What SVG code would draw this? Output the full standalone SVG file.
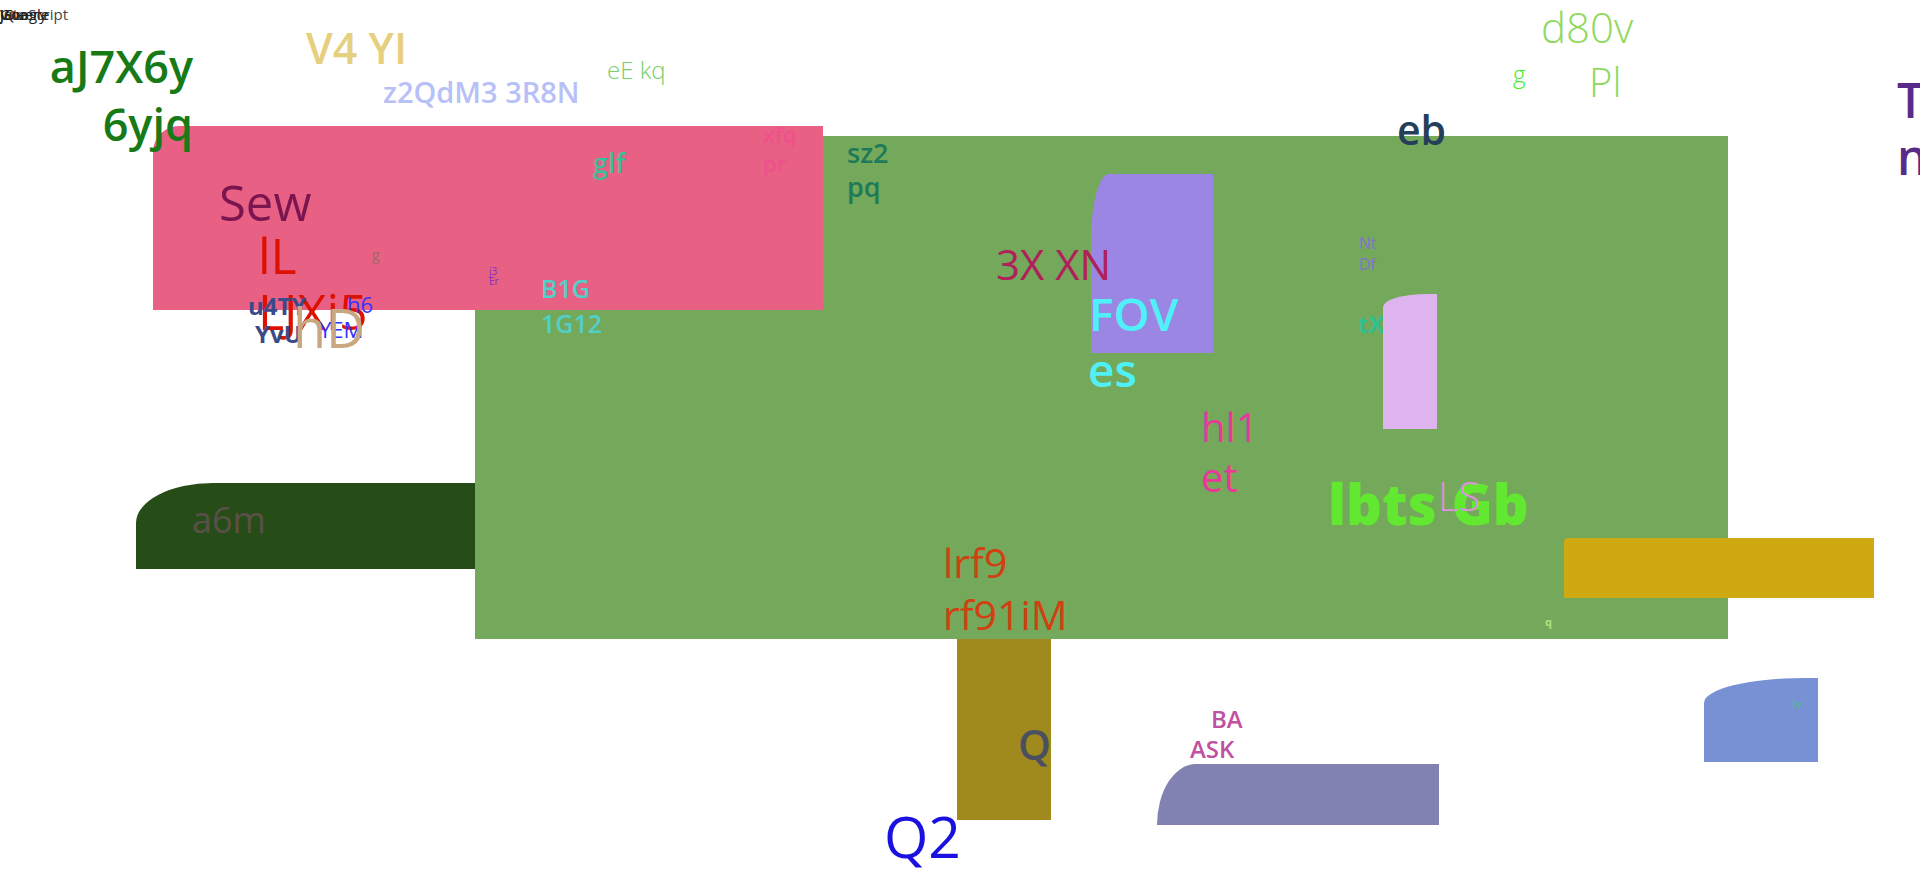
<svg xmlns="http://www.w3.org/2000/svg" width="1920" height="870" viewBox="0 0 1920 870">
<style>
text{font-family:"Open Sans","Noto Sans","Liberation Sans",sans-serif;}
.r{font-weight:400}.l{font-weight:300}.s{font-weight:600}.b{font-weight:700}.x{font-weight:800}
</style>
<rect width="1920" height="870" fill="#ffffff"/>
<g id="connectors"></g>
<g id="n-tl">
<text x="0" y="20" font-size="15" fill="#444">JavaScript</text>
<text x="0" y="20" font-size="15" fill="#222">jQuery</text>
<text x="0" y="20" font-size="15" fill="#222">Google</text>
<text x="0" y="20" font-size="15" fill="#222">Vite</text>
</g>
<g id="n-v4"><text class="s" x="306" y="64" font-size="43" fill="#e6d080">V4 YI</text></g>
<g id="n-z2"><text class="s" x="383" y="103" font-size="29" fill="#b8c0f8">z2QdM3 3R8N</text></g>
<g id="n-eE"><text class="l" x="607" y="79" font-size="24" fill="#78cc6a">eE kq</text></g>
<g id="n-dkgreen"><path d="M136,569 V523 A77,40 0 0 1 213,483 H480 V569 Z" fill="#264d18"/><text class="r" x="192" y="533" font-size="36" fill="#5a5048">a6m</text></g>
<g id="n-olive"><rect x="957" y="620" width="94" height="200" fill="#a0891d"/><text class="s" x="1018" y="760" font-size="42" fill="#4a5060">Q</text></g>
<g id="n-green"><rect x="475" y="136" width="1253" height="503" fill="#74a85a"/>
<text class="s" x="847" y="163" font-size="27" fill="#1e7a5a">sz2</text><text class="s" x="847" y="197" font-size="27" fill="#1e7a5a">pq</text>
<text class="r" x="943" y="578" font-size="41" fill="#d04010">lrf9</text><text class="r" x="943" y="630" font-size="41" fill="#d04010">rf91iM</text>
<text class="s" x="1397" y="145" font-size="41" fill="#253f5a">eb</text>
<text class="b" x="1545" y="626" font-size="11" fill="#b0e080">q</text>
</g>
<g id="n-pink"><path d="M153,310 V152 A26,26 0 0 1 179,126 H823 V310 Z" fill="#e86084"/>
<text class="r" x="219" y="221" font-size="49" fill="#7a1550">Sew</text>
<text class="s" x="593" y="173" font-size="27" fill="#3cbf98">glf</text>
<text class="s" x="763" y="143" font-size="22" fill="#f0508c">xfq</text><text class="s" x="763" y="172" font-size="22" fill="#f0508c">pr</text>
<text class="r" x="372" y="260" font-size="14" fill="#a06868">g</text>
<text class="r" x="489" y="275" font-size="10" fill="#8030c0">j3</text><text class="r" x="489" y="285" font-size="10" fill="#8030c0">Er</text>
</g>
<g id="n-aJ7"><text class="s" x="193" y="83" font-size="45" fill="#177a17" text-anchor="end">aJ7X6y</text><text class="s" x="193" y="141" font-size="45" fill="#177a17" text-anchor="end">6yjq</text></g>
<g id="n-lL"><text class="r" x="258" y="274" font-size="50" fill="#dd1100">lL</text><text class="r" x="258" y="330" font-size="50" fill="#dd1100">LJXi5</text></g>
<g id="n-u4"><text class="b" x="248" y="315" font-size="24" fill="#3a4a8a">u4TY</text><text class="b" x="255" y="343" font-size="24" fill="#3a4a8a">YvU</text></g>
<g id="n-h6"><text class="r" x="347" y="313" font-size="22" fill="#3333ff">h6</text><text class="r" x="319" y="338" font-size="22" fill="#3333ff">YEM</text></g>
<g id="n-hD"><text class="r" x="293" y="348" font-size="54" fill="#c8a880">hD</text></g>
<g id="n-B1G"><text class="s" x="541" y="298" font-size="25" fill="#50d0c8">B1G</text><text class="s" x="541" y="333" font-size="25" fill="#50d0c8">1G12</text></g>
<g id="n-purple"><path d="M1091,353 V241 A18,67 0 0 1 1109,174 H1213 V353 Z" fill="#9c86e4"/></g>
<g id="n-3X"><text class="r" x="996" y="280" font-size="42" fill="#b0205a">3X XN</text></g>
<g id="n-FOV"><text class="s" x="1089" y="331" font-size="46" fill="#50f0f8">FOV</text><text class="s" x="1088" y="387" font-size="46" fill="#50f0f8">es</text></g>
<g id="n-Nt"><text class="r" x="1359" y="249" font-size="16" fill="#8870c8">Nt</text><text class="r" x="1359" y="270" font-size="16" fill="#8870c8">Df</text></g>
<g id="n-tX"><text class="b" x="1358" y="333" font-size="24" fill="#30c090">tX</text></g>
<g id="n-lav"><path d="M1383,429 V307 A44,13 0 0 1 1427,294 H1437 V429 Z" fill="#deb4ee"/></g>
<g id="n-hl1"><text class="r" x="1201" y="442" font-size="40" fill="#e8389a">hl1</text><text class="r" x="1201" y="492" font-size="40" fill="#e8389a">et</text></g>
<g id="n-lbts"><text class="x" x="1328" y="525" font-size="56" fill="#62e830">lbts Gb</text></g>
<g id="n-LS"><text class="l" x="1438" y="511" font-size="40" fill="#e090e0">LS</text></g>
<g id="n-gold"><path d="M1564,598 V542 A4,4 0 0 1 1568,538 H1874 V598 Z" fill="#cfa912"/></g>
<g id="n-d80v"><text class="l" x="1541" y="43" font-size="42" fill="#90d860">d80v</text><text class="l" x="1589" y="97" font-size="40" fill="#90d860">Pl</text></g>
<g id="n-g"><text class="l" x="1513" y="83" font-size="24" fill="#44ee22">g</text></g>
<g id="n-T"><text class="s" x="1897" y="118" font-size="48" fill="#5a2a8a">T</text><text class="s" x="1897" y="175" font-size="48" fill="#5a2a8a">n</text></g>
<g id="n-Q2"><text class="r" x="884" y="858" font-size="57" fill="#1a10e0">Q2</text></g>
<g id="n-slate"><path d="M1157,825 A39,61 0 0 1 1196,764 H1439 V825 Z" fill="#8282b2"/></g>
<g id="n-BA"><text class="s" x="1211" y="728" font-size="24" fill="#c050a0">BA</text><text class="s" x="1190" y="758" font-size="24" fill="#c050a0">ASK</text></g>
<g id="n-blue"><path d="M1704,762 V703 A100,25 0 0 1 1804,678 H1818 V762 Z" fill="#7890d4"/><text class="r" x="1792" y="709" font-size="13" fill="#50c080">lv</text></g>
</svg>
